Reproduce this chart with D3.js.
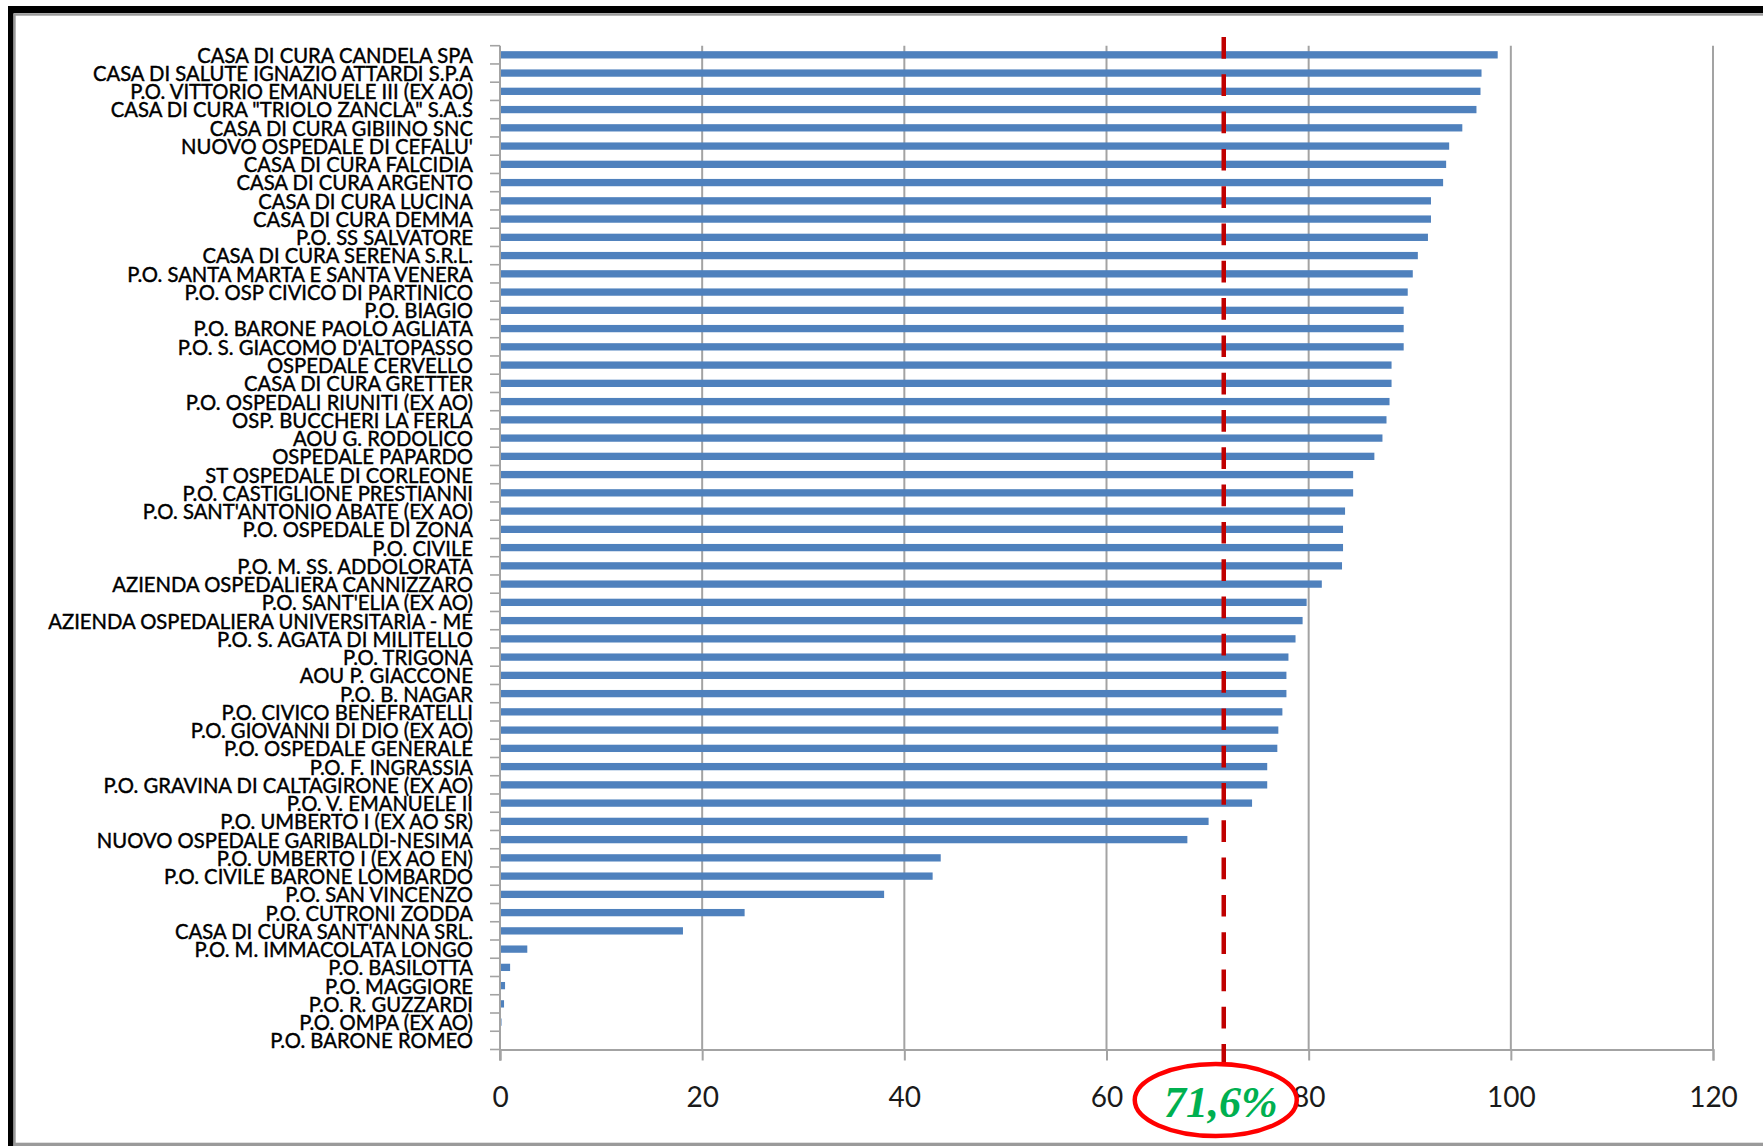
<!DOCTYPE html>
<html>
<head>
<meta charset="utf-8">
<script src="https://cdn.jsdelivr.net/npm/d3@7"></script>
<style>
  html, body { margin: 0; padding: 0; background: #fff; }
  svg { display: block; }
</style>
</head>
<body>
<svg id="chart" width="1763" height="1146"></svg>
<script>
// Hospital structures, top to bottom
const structures = [
  "CASA DI CURA CANDELA SPA",
  "CASA DI SALUTE IGNAZIO ATTARDI S.P.A",
  "P.O. VITTORIO EMANUELE III (EX AO)",
  "CASA DI CURA \"TRIOLO ZANCLA\" S.A.S",
  "CASA DI CURA GIBIINO SNC",
  "NUOVO OSPEDALE DI CEFALU'",
  "CASA DI CURA FALCIDIA",
  "CASA DI CURA ARGENTO",
  "CASA DI CURA LUCINA",
  "CASA DI CURA DEMMA",
  "P.O. SS SALVATORE",
  "CASA DI CURA SERENA S.R.L.",
  "P.O. SANTA MARTA E SANTA VENERA",
  "P.O. OSP CIVICO DI PARTINICO",
  "P.O. BIAGIO",
  "P.O. BARONE PAOLO AGLIATA",
  "P.O. S. GIACOMO D'ALTOPASSO",
  "OSPEDALE CERVELLO",
  "CASA DI CURA GRETTER",
  "P.O. OSPEDALI RIUNITI (EX AO)",
  "OSP. BUCCHERI LA FERLA",
  "AOU G. RODOLICO",
  "OSPEDALE PAPARDO",
  "ST OSPEDALE DI CORLEONE",
  "P.O. CASTIGLIONE PRESTIANNI",
  "P.O. SANT'ANTONIO ABATE (EX AO)",
  "P.O. OSPEDALE DI ZONA",
  "P.O. CIVILE",
  "P.O. M. SS. ADDOLORATA",
  "AZIENDA OSPEDALIERA CANNIZZARO",
  "P.O. SANT'ELIA (EX AO)",
  "AZIENDA OSPEDALIERA UNIVERSITARIA - ME",
  "P.O. S. AGATA DI MILITELLO",
  "P.O. TRIGONA",
  "AOU P. GIACCONE",
  "P.O. B. NAGAR",
  "P.O. CIVICO BENEFRATELLI",
  "P.O. GIOVANNI DI DIO  (EX AO)",
  "P.O. OSPEDALE GENERALE",
  "P.O. F. INGRASSIA",
  "P.O. GRAVINA DI CALTAGIRONE (EX AO)",
  "P.O. V. EMANUELE II",
  "P.O. UMBERTO I (EX AO SR)",
  "NUOVO OSPEDALE GARIBALDI-NESIMA",
  "P.O. UMBERTO I (EX AO EN)",
  "P.O. CIVILE BARONE LOMBARDO",
  "P.O. SAN VINCENZO",
  "P.O. CUTRONI ZODDA",
  "CASA DI CURA SANT'ANNA SRL.",
  "P.O. M. IMMACOLATA LONGO",
  "P.O. BASILOTTA",
  "P.O. MAGGIORE",
  "P.O. R. GUZZARDI",
  "P.O. OMPA (EX AO)",
  "P.O. BARONE ROMEO"
];

// Percentage per structure, same order
const percentages = [
  98.7, 97.1, 97.0, 96.6, 95.2, 93.9, 93.6, 93.3, 92.1, 92.1,
  91.8, 90.8, 90.3, 89.8, 89.4, 89.4, 89.4, 88.2, 88.2, 88.0,
  87.7, 87.3, 86.5, 84.4, 84.4, 83.6, 83.4, 83.4, 83.3, 81.3,
  79.8, 79.4, 78.7, 78.0, 77.8, 77.8, 77.4, 77.0, 76.9, 75.9,
  75.9, 74.4, 70.1, 68.0, 43.6, 42.8, 38.0, 24.2, 18.1, 2.7,
  1.0, 0.5, 0.4, 0.15, 0
];

// Horizontal axis ticks
const xTicks = [0, 20, 40, 60, 80, 100, 120];

// Reference value (regional average)
const referenceValue = 71.6;
const referenceLabel = "71,6%";

const svg = d3.select("#chart");

// Frame
const frame = svg.append("g");
frame.append("rect").attr("x", 8).attr("y", 6).attr("width", 1755).attr("height", 7.3).attr("fill", "#000");
frame.append("rect").attr("x", 8).attr("y", 6).attr("width", 5.5).attr("height", 1140).attr("fill", "#000");
frame.append("rect").attr("x", 13.7).attr("y", 13.7).attr("width", 1750).attr("height", 2).attr("fill", "#9a9a9a");
frame.append("rect").attr("x", 13.7).attr("y", 13.7).attr("width", 2).attr("height", 1133).attr("fill", "#9a9a9a");
frame.append("rect").attr("x", 13.7).attr("y", 1142.7).attr("width", 1750).attr("height", 3.3).attr("fill", "#9a9a9a");

// Scales
const x = d3.scaleLinear().domain([0, 120]).range([500, 1713]);
const y = d3.scaleBand()
  .domain(structures)
  .range([45.7, 1049.5])
  .paddingInner(0.6)
  .paddingOuter(0.3);

const plotTop = y.range()[0];
const plotBottom = y.range()[1];
const gridColor = "#a3a3a3";

// Vertical gridlines
svg.append("g")
  .selectAll("line")
  .data(xTicks.filter(t => t > 0))
  .join("line")
  .attr("x1", d => x(d)).attr("x2", d => x(d))
  .attr("y1", plotTop).attr("y2", plotBottom)
  .attr("stroke", gridColor)
  .attr("stroke-width", 2);

// Bars
svg.append("g")
  .selectAll("rect")
  .data(structures.map((s, i) => ({ s, v: percentages[i] })))
  .join("rect")
  .attr("x", x(0))
  .attr("y", d => y(d.s))
  .attr("width", d => x(d.v) - x(0))
  .attr("height", y.bandwidth())
  .attr("fill", "#4f81bd");

// Bottom axis
const xAxis = d3.axisBottom(x)
  .tickValues(xTicks)
  .tickSize(11)
  .tickPadding(22)
  .tickFormat(d3.format("d"));

const gx = svg.append("g")
  .attr("transform", `translate(0,${plotBottom})`)
  .call(xAxis);
gx.select(".domain").attr("stroke", gridColor).attr("stroke-width", 2);
gx.selectAll(".tick line").attr("stroke", gridColor).attr("stroke-width", 2);
gx.selectAll(".tick text")
  .attr("font-family", "Lato, 'Open Sans', sans-serif")
  .attr("font-size", 28)
  .attr("fill", "#1a1a1a")
  .attr("dy", null)
  .attr("y", 1107 - plotBottom);

// Left axis line and ticks between categories
const gy = svg.append("g");
gy.append("line")
  .attr("x1", x(0)).attr("x2", x(0))
  .attr("y1", plotTop).attr("y2", plotBottom + 11)
  .attr("stroke", gridColor).attr("stroke-width", 2);
gy.selectAll("line.tk")
  .data(d3.range(structures.length + 1))
  .join("line")
  .attr("class", "tk")
  .attr("x1", x(0) - 10).attr("x2", x(0))
  .attr("y1", k => plotTop + k * y.step())
  .attr("y2", k => plotTop + k * y.step())
  .attr("stroke", gridColor).attr("stroke-width", 1.6);

// Category labels, right aligned against the axis
const labelG = svg.append("g").attr("transform", "translate(473,0)");
const labels = labelG.selectAll("text")
  .data(structures)
  .join("text")
  .attr("x", 0)
  .attr("y", d => y(d) + y.bandwidth() / 2)
  .attr("dy", "0.36em")
  .attr("text-anchor", "end")
  .attr("font-family", "Lato, 'Open Sans', sans-serif")
  .attr("font-size", 22)
  .attr("fill", "#000")
  .attr("stroke", "#000")
  .attr("stroke-width", 0.45)
  .text(d => d);

// Narrow the label block so the longest name spans the available width
let maxW = 0;
labels.each(function () { maxW = Math.max(maxW, this.getComputedTextLength()); });
const labelScale = maxW > 0 ? 425 / maxW : 1;
labelG.attr("transform", `translate(473,0) scale(${labelScale},1)`);

// Reference line
const rx = x(referenceValue);
svg.append("line")
  .attr("x1", rx).attr("x2", rx)
  .attr("y1", 37).attr("y2", 1064)
  .attr("stroke", "#c00000")
  .attr("stroke-width", 4.5)
  .attr("stroke-dasharray", "21.7 15.6");

// Highlighted reference label
svg.append("ellipse")
  .attr("cx", rx - 8).attr("cy", 1100)
  .attr("rx", 81).attr("ry", 36)
  .attr("fill", "#fff")
  .attr("stroke", "#ff0000")
  .attr("stroke-width", 4.5);

svg.append("text")
  .attr("x", rx - 3).attr("y", 1117)
  .attr("text-anchor", "middle")
  .attr("font-family", "'Liberation Serif', 'DejaVu Serif', serif")
  .attr("font-style", "italic")
  .attr("font-weight", "bold")
  .attr("font-size", 44)
  .attr("fill", "#00b050")
  .text(referenceLabel);
</script>
</body>
</html>
